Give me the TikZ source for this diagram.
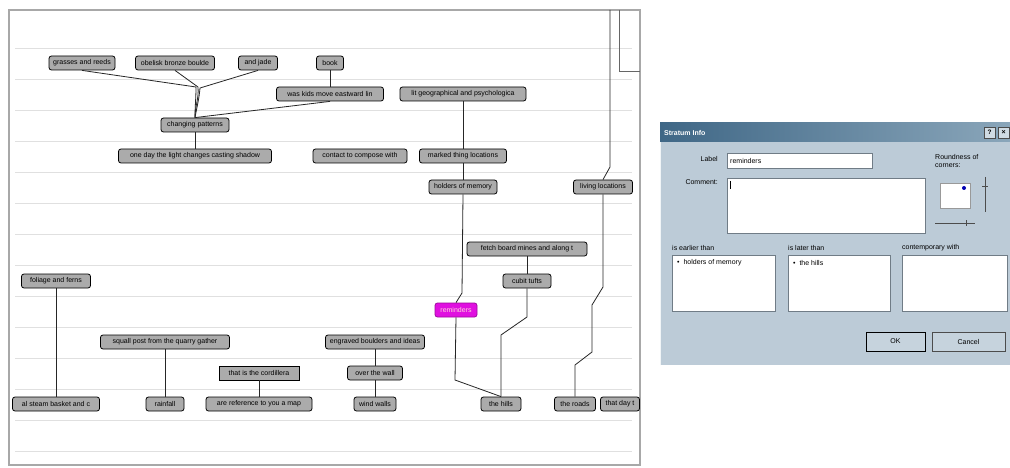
\documentclass[tikz,border=0pt]{standalone}
\usepackage{fontspec}
\setmainfont{Liberation Sans}
\definecolor{ndgray}{HTML}{ABABAB}
\definecolor{framegray}{HTML}{A8A8A8}
\definecolor{linegray}{HTML}{E0E0E0}
\definecolor{dlgbody}{HTML}{BCCBD7}
\definecolor{titleA}{HTML}{3F6786}
\definecolor{titleB}{HTML}{8AA6BA}
\definecolor{remfill}{HTML}{E010E0}
\definecolor{sunken}{HTML}{707C86}
\begin{document}
\begin{tikzpicture}[x=1pt,y=-1pt,
  nd/.style={draw=black, line width=0.8pt, fill=ndgray, rounded corners=2.5pt, minimum height=14pt, inner sep=1pt, font=\fontsize{7}{8}\selectfont, anchor=center},
  remnd/.style={nd, fill=remfill, draw=remfill!70!black, text=pink!60!white},
  cn/.style={draw=black!85, line width=0.8pt},
  dtxt/.style={font=\fontsize{7}{8}\selectfont, inner sep=0pt},
  field/.style={draw=sunken, line width=0.6pt, fill=white},
  btn/.style={draw=black!70, line width=0.6pt, fill=dlgbody!85!white, minimum height=19pt, font=\fontsize{7}{8}\selectfont}]
\useasboundingbox (0,0) rectangle (1010,468);
\fill[white] (0,0) rectangle (1010,468);

% ---------- diagram window ----------
\foreach \yy in {48,79,...,451} \draw[linegray, line width=0.8pt] (15,\yy) -- (632,\yy);
\draw[framegray, line width=2pt] (9,10) rectangle (640,465);
\draw[black!60, line width=0.7pt] (619,10) -- (619,71) -- (640,71);

% nodes
\node[nd, minimum width=66] (grasses) at (82,63) {grasses and reeds};
\node[nd, minimum width=79] (obelisk) at (175,63) {obelisk bronze boulde};
\node[nd, minimum width=39] (jade) at (258,63) {and jade};
\node[nd, minimum width=27] (book) at (330,63) {book};
\node[nd, minimum width=107] (kids) at (330,94) {was kids move eastward lin};
\node[nd, minimum width=126] (lit) at (463,94) {lit geographical and psychologica};
\node[nd, minimum width=68] (changing) at (195,125) {changing patterns};
\node[nd, minimum width=153] (oneday) at (195,156) {one day the light changes casting shadow};
\node[nd, minimum width=94] (contact) at (360,156) {contact to compose with};
\node[nd, minimum width=87] (marked) at (463,156) {marked thing locations};
\node[nd, minimum width=68] (holders) at (463,187) {holders of memory};
\node[nd, minimum width=59] (living) at (603,187) {living locations};
\node[nd, minimum width=120] (fetch) at (527,249) {fetch board mines and along t};
\node[nd, minimum width=69] (foliage) at (56,281) {foliage and ferns};
\node[nd, minimum width=48] (cubit) at (527,281) {cubit tufts};
\node[remnd, minimum width=42] (reminders) at (456,310) {reminders};
\node[nd, minimum width=129] (squall) at (165,342) {squall post from the quarry gather};
\node[nd, minimum width=99] (engraved) at (375,342) {engraved boulders and ideas};
\node[nd, minimum width=80, rounded corners=0pt] (cordillera) at (259,373) {that is the cordillera};
\node[nd, minimum width=55] (overwall) at (375,373) {over the wall};
\node[nd, minimum width=87] (alsteam) at (56,404) {al steam basket and c};
\node[nd, minimum width=38] (rainfall) at (165,404) {rainfall};
\node[nd, minimum width=106] (areref) at (259,404) {are reference to you a map};
\node[nd, minimum width=42] (wind) at (375,404) {wind walls};
\node[nd, minimum width=40] (hills) at (501,404) {the hills};
\node[nd, minimum width=41] (roads) at (575,404) {the roads};
\node[nd, minimum width=39] (thatday) at (620,404) {that day t};

% connectors
\draw[cn] (grasses.south) -- (196,87) to[out=-90,in=90] (changing.north);
\draw[cn] (obelisk.south) -- (198,87) to[out=-85,in=90] (changing.north);
\draw[cn] (jade.south) -- (200,88) to[out=-95,in=80] (changing.north);
\draw[cn] (kids.south) -- (changing.north);
\draw[cn] (book) -- (kids);
\draw[cn] (changing) -- (oneday);
\draw[cn] (lit) -- (marked);
\draw[cn] (marked) -- (holders);
\draw[cn] (holders.south) -- (462,293) -- (reminders.north);
\draw[cn] (reminders.south) -- (455,380) -- (hills.north);
\draw[cn] (fetch) -- (cubit);
\draw[cn] (cubit.south) -- (527,317) -- (501,335) -- (hills.north);
\coordinate (topin) at (610,10);
\draw[cn] (topin) -- (610,167) -- (living.north);
\draw[cn] (living.south) -- (603,287) -- (592,305) -- (592,352) -- (575,365) -- (roads.north);
\draw[cn] (foliage) -- (alsteam);
\draw[cn] (squall) -- (rainfall);
\draw[cn] (cordillera) -- (areref);
\draw[cn] (engraved) -- (overwall);
\draw[cn] (overwall) -- (wind);

% ---------- dialog ----------
\fill[dlgbody] (660,123) rectangle (1010,365);
\draw[white!80!dlgbody, line width=1pt] (660,365) -- (660,123);
\shade[left color=titleA, right color=titleB] (660,123) rectangle (1010,142);
\node[dtxt, anchor=west, text=white, font=\bfseries\fontsize{7}{8}\selectfont] (title) at (664,132.5) {Stratum Info};
\node[draw=black!70, fill=dlgbody!70!white, minimum width=11pt, minimum height=11pt, inner sep=0pt, font=\bfseries\fontsize{6.5}{7}\selectfont] (help) at (989.5,132.5) {?};
\node[draw=black!70, fill=dlgbody!70!white, minimum width=11pt, minimum height=11pt, inner sep=0pt, font=\bfseries\fontsize{7}{7}\selectfont, anchor=west] (close) at (998,132.5) {\symbol{"00D7}};

\node[dtxt, anchor=east] (lbl) at (718,159) {Label};
\draw[field] (727,153) rectangle (872,168);
\node[dtxt, anchor=west] (lblval) at (730,160.5) {reminders};
\node[dtxt, anchor=east] (cmt) at (718,182) {Comment:};
\draw[field] (727,178) rectangle (925,233);
\draw[black, line width=0.5pt] (730,181) -- (730,189);

\node[dtxt, anchor=north west, align=left] (round) at (935,154) {Roundness of\\corners:};
\draw[draw=black!40, fill=white] (940,183) rectangle (970,208);
\fill[blue!70!black] (964,188) circle (2);
\draw[black!70, line width=0.8pt] (985,177) -- (985,212);
\draw[black!70, line width=0.8pt] (982,186) -- (988,186);
\draw[black!70, line width=0.8pt] (935,223) -- (975,223);
\draw[black!70, line width=0.8pt] (966,220) -- (966,226);

\node[dtxt, anchor=west] (earl) at (672,248) {is earlier than};
\node[dtxt, anchor=west] (later) at (788,248) {is later than};
\node[dtxt, anchor=west] (contemp) at (902,248) {contemporary with};
\draw[field] (672,255) rectangle (775,311);
\draw[field] (788,255) rectangle (890,311);
\draw[field] (902,255) rectangle (1007,311);
\node[dtxt, anchor=west] (item1) at (677,263) {\textbullet\ \ holders of memory};
\node[dtxt, anchor=west] (item2) at (793,263) {\textbullet\ \ the hills};

\node[btn, minimum width=59pt, draw=black, line width=0.9pt] (ok) at (895.5,341.5) {OK};
\node[btn, minimum width=73pt] (cancel) at (968.5,341.5) {Cancel};
\end{tikzpicture}
\end{document}
